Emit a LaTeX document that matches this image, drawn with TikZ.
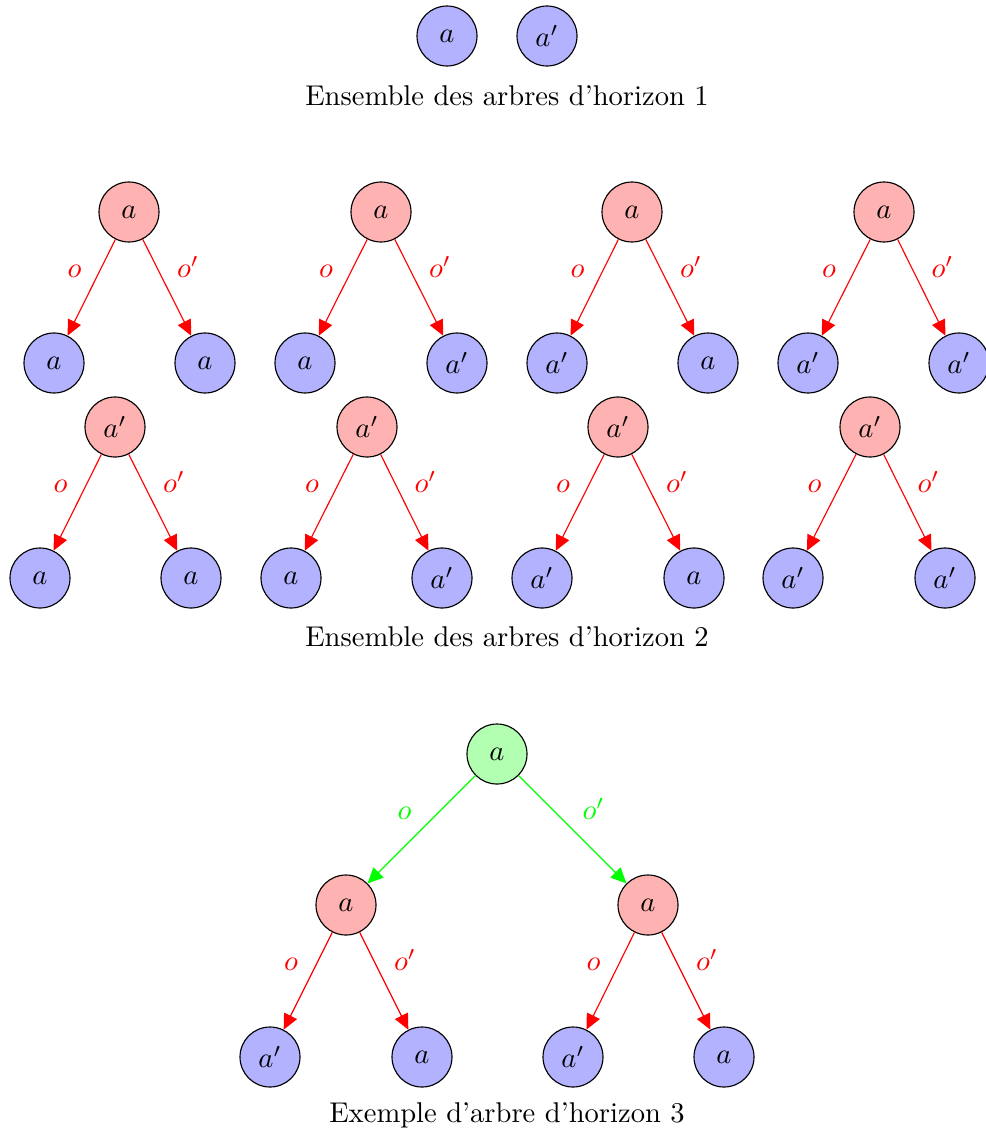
\documentclass[tikz,border=0pt]{standalone}
\usetikzlibrary{arrows.meta}
\tikzset{
bleu/.style={circle, draw=black, fill=blue!30, minimum size=21pt, inner sep=0pt},
rouge/.style={circle, draw=black, fill=red!30, minimum size=21pt, inner sep=0pt},
vert/.style={circle, draw=black, fill=green!30, minimum size=21pt, inner sep=0pt},
fr/.style={red, -{Triangle[length=5.4pt,width=5pt]}},
fv/.style={green, -{Triangle[length=5.4pt,width=5pt]}}
}
\begin{document}
\begin{tikzpicture}[x=0.35pt, y=-0.35pt]
\useasboundingbox (0,0) rectangle (985,1136);
% horizon 1
\node[bleu] (h1a) at (447,36) {$a$};
\node[bleu] (h1b) at (547,36) {$a'$};
\node (t1) at (507,96) {Ensemble des arbres d'horizon 1};
% horizon 2, premiere ligne
\node[rouge] (r1) at (129,212) {$a$};
\node[bleu] (r1g) at (54,363) {$a$};
\node[bleu] (r1d) at (205,363) {$a$};
\node[rouge] (r2) at (381,212) {$a$};
\node[bleu] (r2g) at (305,363) {$a$};
\node[bleu] (r2d) at (457,363) {$a'$};
\node[rouge] (r3) at (632,212) {$a$};
\node[bleu] (r3g) at (557,363) {$a'$};
\node[bleu] (r3d) at (708,363) {$a$};
\node[rouge] (r4) at (884,212) {$a$};
\node[bleu] (r4g) at (808,363) {$a'$};
\node[bleu] (r4d) at (959,363) {$a'$};
\draw[fr] (r1)--node[above left]{$o$}(r1g);
\draw[fr] (r1)--node[above right]{$o'$}(r1d);
\draw[fr] (r2)--node[above left]{$o$}(r2g);
\draw[fr] (r2)--node[above right]{$o'$}(r2d);
\draw[fr] (r3)--node[above left]{$o$}(r3g);
\draw[fr] (r3)--node[above right]{$o'$}(r3d);
\draw[fr] (r4)--node[above left]{$o$}(r4g);
\draw[fr] (r4)--node[above right]{$o'$}(r4d);
% horizon 2, deuxieme ligne
\node[rouge] (s1) at (115,427) {$a'$};
\node[bleu] (s1g) at (40,578) {$a$};
\node[bleu] (s1d) at (191,578) {$a$};
\node[rouge] (s2) at (367,427) {$a'$};
\node[bleu] (s2g) at (291,578) {$a$};
\node[bleu] (s2d) at (442,578) {$a'$};
\node[rouge] (s3) at (618,427) {$a'$};
\node[bleu] (s3g) at (542,578) {$a'$};
\node[bleu] (s3d) at (694,578) {$a$};
\node[rouge] (s4) at (870,427) {$a'$};
\node[bleu] (s4g) at (793,578) {$a'$};
\node[bleu] (s4d) at (945,578) {$a'$};
\draw[fr] (s1)--node[above left]{$o$}(s1g);
\draw[fr] (s1)--node[above right]{$o'$}(s1d);
\draw[fr] (s2)--node[above left]{$o$}(s2g);
\draw[fr] (s2)--node[above right]{$o'$}(s2d);
\draw[fr] (s3)--node[above left]{$o$}(s3g);
\draw[fr] (s3)--node[above right]{$o'$}(s3d);
\draw[fr] (s4)--node[above left]{$o$}(s4g);
\draw[fr] (s4)--node[above right]{$o'$}(s4d);
\node (t2) at (507,637) {Ensemble des arbres d'horizon 2};
% horizon 3
\node[vert] (v) at (497,754) {$a$};
\node[rouge] (vg) at (346,905) {$a$};
\node[rouge] (vd) at (648,905) {$a$};
\node[bleu] (vgg) at (270,1057) {$a'$};
\node[bleu] (vgd) at (422,1057) {$a$};
\node[bleu] (vdg) at (573,1057) {$a'$};
\node[bleu] (vdd) at (724,1057) {$a$};
\draw[fv] (v)--node[above left]{$o$}(vg);
\draw[fv] (v)--node[above right]{$o'$}(vd);
\draw[fr] (vg)--node[above left]{$o$}(vgg);
\draw[fr] (vg)--node[above right]{$o'$}(vgd);
\draw[fr] (vd)--node[above left]{$o$}(vdg);
\draw[fr] (vd)--node[above right]{$o'$}(vdd);
\node (t3) at (507,1115) {Exemple d'arbre d'horizon 3};
\end{tikzpicture}
\end{document}
